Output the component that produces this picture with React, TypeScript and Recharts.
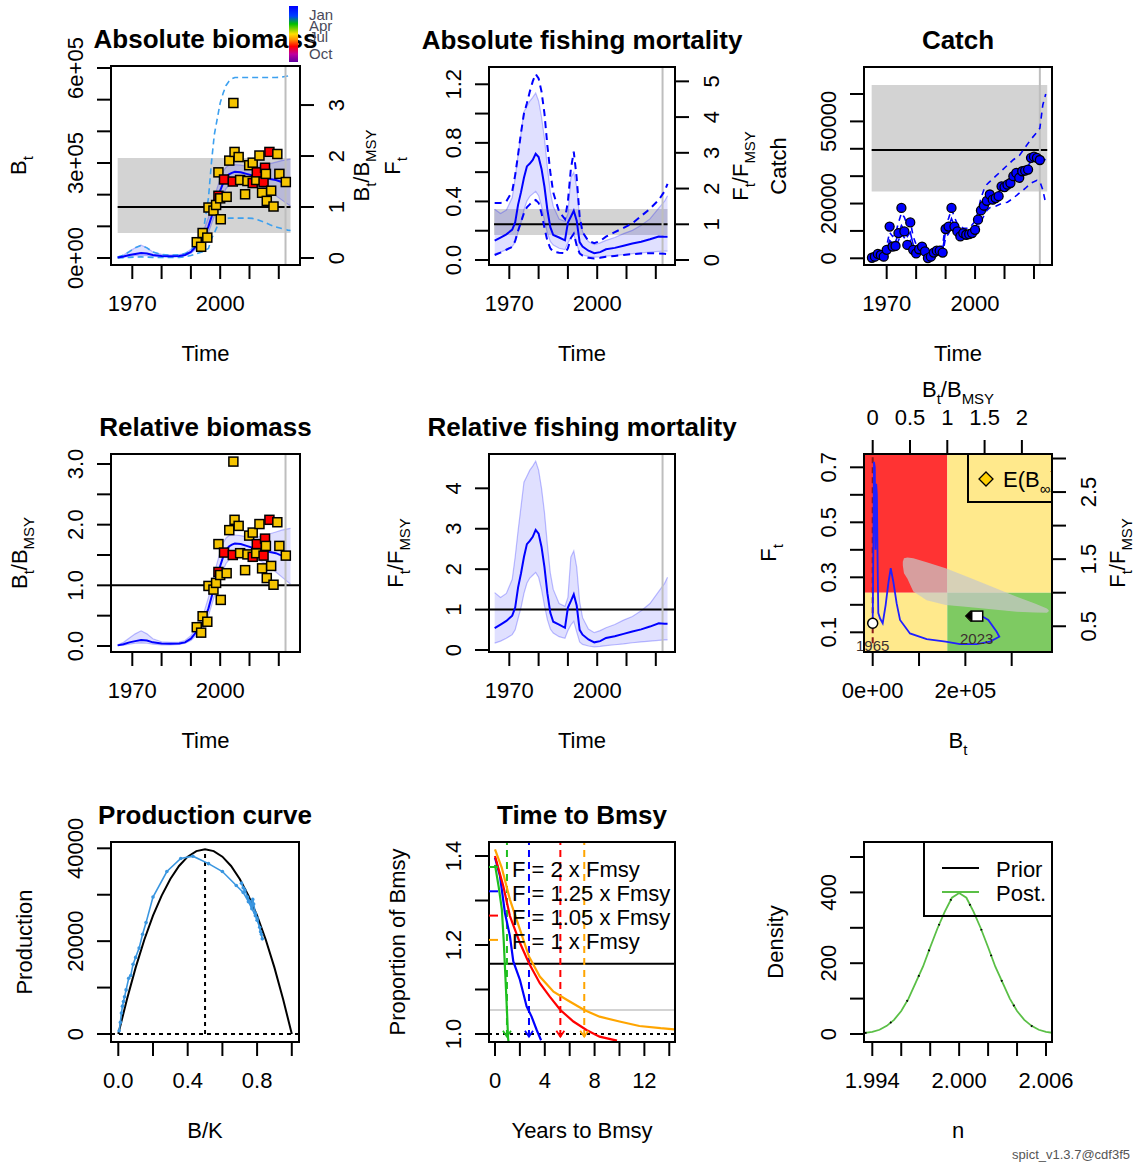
import React from "react";
import {
  ComposedChart,
  Line,
  Area,
  Scatter,
  XAxis,
  YAxis,
  ReferenceLine,
  ReferenceArea,
} from "recharts";

const FONT = "'Liberation Sans', Arial, Helvetica, sans-serif";
const PAD = 60;

// reference points
const BMSY = 161000;
const FMSY = 0.244;
const MSY = 39600;
const BMSY_CI = [79000, 316000];
const FMSY_CI = [0.17, 0.349];
const MSY_CI = [24400, 63300];
const LAST_OBS = 2022.3;

// biomass (relative to Bmsy) with CI, plus the wide dashed interval in tonnes
const bYear = [1965, 1967, 1969, 1971, 1973, 1975, 1977, 1980, 1983, 1986, 1988, 1990, 1992, 1994, 1996, 1997, 1998, 1999, 2000, 2001, 2002, 2003, 2004, 2005, 2007, 2009, 2011, 2013, 2015, 2017, 2019, 2021, 2023, 2024];
const bRel = [0.01, 0.03, 0.06, 0.08, 0.1, 0.09, 0.06, 0.04, 0.035, 0.04, 0.06, 0.12, 0.24, 0.36, 0.62, 0.8, 0.98, 1.14, 1.32, 1.47, 1.58, 1.64, 1.67, 1.69, 1.68, 1.65, 1.62, 1.6, 1.58, 1.55, 1.53, 1.49, 1.44, 1.42];
const bRelLo = [0.005, 0.015, 0.03, 0.045, 0.05, 0.045, 0.03, 0.02, 0.02, 0.025, 0.045, 0.09, 0.18, 0.28, 0.5, 0.66, 0.82, 0.96, 1.1, 1.25, 1.36, 1.42, 1.45, 1.47, 1.48, 1.47, 1.45, 1.42, 1.37, 1.3, 1.22, 1.14, 1.06, 1.02];
const bRelHi = [0.02, 0.06, 0.13, 0.2, 0.25, 0.2, 0.12, 0.07, 0.06, 0.065, 0.09, 0.17, 0.31, 0.48, 0.8, 1.0, 1.2, 1.38, 1.55, 1.7, 1.78, 1.82, 1.83, 1.83, 1.82, 1.8, 1.79, 1.8, 1.82, 1.85, 1.88, 1.91, 1.93, 1.94];
const bDashLo = [0, 1000, 2000, 3000, 3500, 3000, 2000, 1500, 1500, 2000, 4000, 8000, 14000, 20000, 30000, 60000, 79000, 100000, 113000, 121000, 124000, 126000, 126000, 126000, 126000, 126000, 125000, 120000, 113000, 105000, 98000, 93000, 88000, 87000];
const bDashHi = [3000, 9000, 20000, 32000, 40000, 32000, 19000, 11000, 9000, 10000, 14000, 25000, 45000, 70000, 190000, 300000, 390000, 440000, 490000, 520000, 545000, 558000, 566000, 570000, 570000, 570000, 570000, 570000, 570000, 570000, 570000, 571000, 575000, 580000];

// biomass index observations (relative scale) and their season
const idxYear = [1992.0, 1993.5, 1994.0, 1995.6, 1996.0, 1997.7, 1998.6, 1999.4, 2000.2, 2000.0, 1999.4, 2001.3, 2002.2, 2003.1, 2004.5, 2004.9, 2004.3, 2006.3, 2006.8, 2008.5, 2009.3, 2009.9, 2011.1, 2011.1, 2012.3, 2012.5, 2013.4, 2014.3, 2014.8, 2015.3, 2015.6, 2015.9, 2016.8, 2017.4, 2018.2, 2019.5, 2020.2, 2022.4];
const idxRel = [0.31, 0.22, 0.49, 0.4, 0.99, 0.93, 1.04, 1.22, 0.76, 1.17, 1.68, 1.54, 1.2, 1.91, 3.04, 2.08, 1.5, 1.98, 1.53, 1.25, 1.51, 1.82, 1.87, 1.47, 1.53, 1.68, 2.01, 1.28, 1.49, 1.77, 1.65, 1.12, 2.08, 1.32, 1.01, 2.04, 1.65, 1.49];
const idxSeason = ["Jul", "Jul", "Jul", "Jul", "Jul", "Jul", "Jul", "Oct", "Jul", "Jul", "Jul", "Oct", "Jul", "Jul", "Jul", "Jul", "Oct", "Jul", "Jul", "Jul", "Jul", "Jul", "Jul", "Oct", "Jul", "Oct", "Jul", "Jul", "Oct", "Oct", "Jul", "Jul", "Oct", "Jul", "Jul", "Jul", "Jul", "Jul"];

// fishing mortality (relative to Fmsy) with CI, plus dashed interval in F units
const fYear = [1965, 1967, 1969, 1971, 1972, 1973, 1974, 1975, 1976, 1977, 1978, 1979, 1980, 1981, 1982, 1983, 1984, 1985, 1987, 1989, 1990, 1991, 1992, 1993, 1994, 1995, 1997, 1999, 2001, 2003, 2006, 2009, 2012, 2015, 2018, 2021, 2023, 2024];
const fRel = [0.54, 0.63, 0.72, 0.85, 1.05, 1.55, 1.9, 2.3, 2.62, 2.7, 2.8, 2.97, 2.88, 2.55, 2.05, 1.4, 0.92, 0.7, 0.63, 0.55, 1.05, 1.21, 1.38, 1.1, 0.5, 0.38, 0.26, 0.19, 0.22, 0.3, 0.34, 0.4, 0.46, 0.51, 0.58, 0.66, 0.65, 0.65];
const fLo = [0.17, 0.22, 0.29, 0.38, 0.5, 0.78, 1.05, 1.4, 1.65, 1.78, 1.85, 1.92, 1.8, 1.5, 1.1, 0.75, 0.52, 0.42, 0.33, 0.29, 0.48, 0.62, 0.71, 0.45, 0.2, 0.14, 0.1, 0.08, 0.09, 0.11, 0.13, 0.15, 0.18, 0.2, 0.22, 0.24, 0.25, 0.25];
const fHi = [1.42, 1.3, 1.4, 1.75, 2.3, 2.95, 3.55, 4.15, 4.3, 4.45, 4.55, 4.67, 4.45, 4.0, 3.4, 2.6, 1.9, 1.5, 1.15, 1.08, 1.3, 2.3, 2.45, 2.05, 1.2, 0.8, 0.52, 0.43, 0.48, 0.55, 0.63, 0.74, 0.83, 0.97, 1.15, 1.45, 1.65, 1.8];
const fDashLo = [0.034, 0.05, 0.07, 0.09, 0.13, 0.2, 0.26, 0.32, 0.36, 0.38, 0.4, 0.41, 0.39, 0.32, 0.22, 0.13, 0.08, 0.057, 0.05, 0.046, 0.08, 0.15, 0.18, 0.1, 0.045, 0.03, 0.015, 0.011, 0.015, 0.022, 0.028, 0.035, 0.04, 0.045, 0.046, 0.045, 0.042, 0.04];
const fDashHi = [0.39, 0.39, 0.4, 0.47, 0.58, 0.72, 0.87, 1.0, 1.07, 1.15, 1.22, 1.27, 1.24, 1.15, 1.0, 0.78, 0.6, 0.46, 0.33, 0.28, 0.4, 0.62, 0.74, 0.56, 0.3, 0.19, 0.13, 0.115, 0.13, 0.16, 0.19, 0.22, 0.25, 0.3, 0.35, 0.41, 0.47, 0.52];

// catch: observed yearly, predicted with interval
const obsYear = Array.from({ length: 58 }, (_, i) => 1965 + i);
const obsCatch = [200, 600, 1600, 1200, 600, 3100, 11600, 4300, 4500, 9200, 18400, 9800, 4900, 13100, 3100, 1800, 3300, 4300, 2500, 100, 600, 2100, 2800, 2800, 2100, 10700, 11600, 18400, 11600, 9800, 8000, 9200, 8600, 8800, 9200, 10400, 14100, 17500, 19200, 21000, 23300, 21400, 22000, 22700, 26300, 26000, 26900, 27500, 30000, 31200, 29400, 31800, 32000, 32400, 36700, 37100, 36700, 35900];
const cYear = [1965, 1967, 1969, 1970, 1971, 1972, 1973, 1974, 1975, 1976, 1977, 1978, 1979, 1980, 1982, 1984, 1986, 1988, 1989, 1990, 1991, 1992, 1993, 1994, 1996, 1998, 2000, 2001, 2002, 2003, 2004, 2005, 2007, 2009, 2011, 2013, 2015, 2017, 2019, 2021, 2022, 2023, 2024];
const cEst = [400, 1200, 1500, 2800, 6500, 5500, 6000, 9000, 12000, 10500, 8000, 9500, 5000, 3000, 3500, 1200, 1800, 2800, 3000, 10000, 11500, 14500, 12000, 10000, 9000, 9000, 10500, 13500, 17000, 19000, 21000, 22500, 22500, 25500, 27000, 29500, 30000, 32000, 35500, 36800, 36000, 36200, 36000];
const cLo = [150, 600, 800, 1600, 4000, 3500, 4000, 6500, 9000, 7500, 5500, 6500, 3000, 1800, 2000, 500, 1000, 1800, 1800, 7500, 9000, 11500, 9500, 8000, 7300, 7300, 8500, 11000, 13500, 15500, 17500, 18500, 19000, 20000, 20500, 22000, 23800, 25500, 27500, 28500, 28000, 25000, 20000];
const cHi = [900, 2200, 2800, 4500, 9500, 8000, 9000, 13000, 16500, 15000, 12000, 13500, 8000, 5000, 5500, 2500, 3000, 4200, 4500, 13000, 14500, 18000, 15000, 12500, 11000, 11000, 13500, 17000, 22000, 25000, 27000, 28000, 30000, 32000, 34000, 36000, 37500, 40500, 43500, 46000, 47500, 56000, 60000];

// Kobe plot: confidence region of the final state, and the trajectory
const kbB = [65000, 67500, 75000, 87600, 116500, 157500, 200000, 239000, 311000, 350000, 376000, 380000];
const kbLo = [0.343, 0.315, 0.295, 0.248, 0.217, 0.199, 0.193, 0.187, 0.175, 0.172, 0.171, 0.177];
const kbHi = [0.357, 0.369, 0.372, 0.369, 0.355, 0.333, 0.305, 0.278, 0.229, 0.205, 0.187, 0.18];
const kB = [0, 1500, 2800, 4500, 6000, 7500, 9000, 11000, 12100, 16000, 21600, 28000, 33700, 38900, 44500, 51700, 59000, 80500, 116500, 157600, 188400, 224500, 253200, 273300, 267600, 249500, 235300, 224500];
const kF = [0.133, 0.42, 0.72, 0.7, 0.4, 0.64, 0.6, 0.3, 0.17, 0.15, 0.133, 0.2, 0.278, 0.333, 0.284, 0.205, 0.145, 0.096, 0.075, 0.066, 0.057, 0.057, 0.066, 0.084, 0.102, 0.145, 0.159, 0.159];
const kEndYears = ["1965", "2023"];
const eBinfB = 211500;
const eBinfF = 0.159;

// production curve
const pcBK = [0, 0.05, 0.1, 0.15, 0.2, 0.25, 0.3, 0.35, 0.4, 0.45, 0.5, 0.55, 0.6, 0.65, 0.7, 0.75, 0.8, 0.85, 0.9, 0.95, 1.0];
const pcProd = [0, 7500, 14300, 20300, 25500, 29800, 33400, 36200, 38200, 39400, 39800, 39400, 38200, 36200, 33400, 29800, 25500, 20300, 14300, 7500, 0];
const prodBK = [0.005, 0.012, 0.018, 0.024, 0.03, 0.036, 0.045, 0.06, 0.072, 0.085, 0.1, 0.12, 0.14, 0.16, 0.2, 0.28, 0.36, 0.43, 0.52, 0.6, 0.68, 0.72, 0.75, 0.77, 0.79, 0.8, 0.82, 0.83, 0.825, 0.815, 0.8, 0.79, 0.78, 0.775, 0.77, 0.76, 0.745, 0.73, 0.72, 0.71];
const prodP = [700, 2500, 4500, 6000, 7000, 8000, 9500, 12000, 12600, 15000, 16500, 18500, 21500, 24000, 29500, 35000, 37800, 38300, 36700, 35000, 32000, 30500, 28500, 27000, 25500, 25000, 22000, 20500, 21500, 23000, 24500, 26000, 28000, 29000, 27500, 28500, 29500, 31000, 31500, 32500];

// time to Bmsy under four F scenarios
const ttbLabels = ["F = 2 x Fmsy", "F = 1.25 x Fmsy", "F = 1.05 x Fmsy", "F = 1 x Fmsy"];
const ttbT = [
  [0, 0.3, 0.55, 0.7, 0.8, 0.9, 0.98, 1.05, 1.1],
  [0, 0.4, 0.8, 1.2, 1.47, 2.0, 2.54, 2.94, 3.35, 3.7],
  [0, 0.67, 1.2, 2.0, 2.73, 3.6, 4.4, 5.25, 6.3, 7.35, 8.4, 9.8],
  [0, 0.54, 1.2, 2.0, 2.73, 3.6, 4.7, 5.76, 7.17, 8.4, 10, 11.6, 13.3, 14.4],
];
const ttbP = [
  [1.38, 1.33, 1.28, 1.21, 1.15, 1.09, 1.04, 0.99, 0.98],
  [1.396, 1.355, 1.272, 1.22, 1.163, 1.122, 1.062, 1.039, 1.009, 0.986],
  [1.4, 1.332, 1.265, 1.205, 1.159, 1.114, 1.084, 1.054, 1.028, 1.009, 0.994, 0.985],
  [1.415, 1.374, 1.302, 1.235, 1.174, 1.129, 1.095, 1.077, 1.054, 1.039, 1.028, 1.018, 1.013, 1.0105],
];
const ttbReach = [0.96, 2.73, 5.25, 7.17];
const ttbNow = 1.158;
const ttbGrey = 1.054;

// prior / posterior of n
const nGrid = [1.9935, 1.994, 1.9945, 1.995, 1.9955, 1.996, 1.9965, 1.997, 1.9975, 1.998, 1.9985, 1.999, 1.9995, 2.0, 2.0005, 2.001, 2.0015, 2.002, 2.0025, 2.003, 2.0035, 2.004, 2.0045, 2.005, 2.0055, 2.006, 2.0065];
const nPost = [3, 6, 12, 23, 40, 65, 100, 145, 190, 245, 298, 345, 385, 398, 385, 345, 298, 245, 190, 145, 100, 65, 40, 23, 12, 6, 3];
const nPrior = [3, 6, 12, 23, 40, 65, 100, 145, 190, 245, 298, 345, 385, 398, 385, 345, 298, 245, 190, 145, 100, 65, 40, 23, 12, 6, 3];

// tables for the library
const bioRows = bYear.map((x, i) => ({
  x,
  rel: bRel[i],
  relLo: bRelLo[i],
  relHi: bRelHi[i],
  relBand: [bRelLo[i], bRelHi[i]],
  abs: bRel[i] * BMSY,
  absLo: bRelLo[i] * BMSY,
  absHi: bRelHi[i] * BMSY,
  absBand: [bRelLo[i] * BMSY, bRelHi[i] * BMSY],
  dLo: bDashLo[i],
  dHi: bDashHi[i],
}));
const idxRows = idxYear.map((x, i) => ({ x, rel: idxRel[i], abs: idxRel[i] * BMSY, season: idxSeason[i] }));
const fRows = fYear.map((x, i) => ({
  x,
  rel: fRel[i],
  relLo: fLo[i],
  relHi: fHi[i],
  relBand: [fLo[i], fHi[i]],
  abs: fRel[i] * FMSY,
  absLo: fLo[i] * FMSY,
  absHi: fHi[i] * FMSY,
  absBand: [fLo[i] * FMSY, fHi[i] * FMSY],
  dLo: fDashLo[i],
  dHi: fDashHi[i],
}));
const catchRows = cYear.map((x, i) => ({ x, est: cEst[i], lo: cLo[i], hi: cHi[i] }));
const obsRows = obsYear.map((x, i) => ({ x, y: obsCatch[i] }));
const kobeBand = kbB.map((x, i) => ({ x, band: [kbLo[i], kbHi[i]] }));
const kobeTraj = kB.map((x, i) => ({ x, y: kF[i] }));
const kobeEnds = [
  { x: kB[0], y: kF[0], kind: "start", lab: kEndYears[0] },
  { x: kB[kB.length - 1], y: kF[kF.length - 1], kind: "end", lab: kEndYears[1] },
];
const prodRows = pcBK.map((x, i) => ({ x, p: pcProd[i] }));
const prodTraj = prodBK.map((x, i) => ({ x, y: prodP[i] }));
const priorRows = nGrid.map((x, i) => ({ x, post: nPost[i], prior: nPrior[i] }));

// layout
type Box = { x: number; y: number; w: number; h: number };
const B1: Box = { x: 111, y: 66, w: 189, h: 199 };
const B2: Box = { x: 489, y: 67, w: 186, h: 198 };
const B3: Box = { x: 864, y: 67, w: 188, h: 198 };
const B4: Box = { x: 111, y: 454, w: 189, h: 198 };
const B5: Box = { x: 489, y: 454, w: 186, h: 198 };
const B6: Box = { x: 864, y: 454, w: 188, h: 198 };
const B7: Box = { x: 111, y: 842, w: 188, h: 200 };
const B8: Box = { x: 489, y: 842, w: 186, h: 200 };
const B9: Box = { x: 864, y: 842, w: 188, h: 200 };

const BLUE = "#0000ff";
const DASHBLUE = "#3ca0f0";
const GREY_BAND = "#d3d3d3";
const GREY_LINE = "#bebebe";
const PRODBLUE = "#3a96e0";
const TTB_COLS = ["#1fbf1f", "#0000ff", "#ff0000", "#ffa500"];
const POST_GREEN = "#5abf46";

const holder = (b: Box): React.CSSProperties => ({ position: "absolute", left: b.x - PAD, top: b.y - PAD });
const chartProps = (b: Box, top = false, right = false) => ({
  width: b.w + 2 * PAD,
  height: b.h + 2 * PAD,
  margin: { top: top ? 0 : PAD, right: right ? 0 : PAD, bottom: 0, left: 0 },
});

const ax = {
  type: "number" as const,
  axisLine: false,
  tickLine: { stroke: "#000", strokeWidth: 2 },
  tickSize: 14,
  interval: 0 as const,
  allowDataOverflow: true,
};

type Labels = Record<string, string>;
const bottomTick = (b: Box, labels: Labels) => (p: any) => {
  const s = labels[String(p.payload.value)];
  if (!s) return <g />;
  return (
    <text x={p.x} y={PAD + b.h + 46} textAnchor="middle" fontSize={22} fontFamily={FONT} fill="#000">
      {s}
    </text>
  );
};
const topTick = (labels: Labels) => (p: any) => {
  const s = labels[String(p.payload.value)];
  if (!s) return <g />;
  return (
    <text x={p.x} y={PAD - 29} textAnchor="middle" fontSize={22} fontFamily={FONT} fill="#000">
      {s}
    </text>
  );
};
const leftTick = (labels: Labels) => (p: any) => {
  const s = labels[String(p.payload.value)];
  if (!s) return <g />;
  const xb = PAD - 28;
  return (
    <text x={xb} y={p.y} transform={`rotate(-90 ${xb} ${p.y})`} textAnchor="middle" fontSize={22} fontFamily={FONT} fill="#000">
      {s}
    </text>
  );
};
const rightTick = (b: Box, labels: Labels) => (p: any) => {
  const s = labels[String(p.payload.value)];
  if (!s) return <g />;
  const xb = PAD + b.w + 44;
  return (
    <text x={xb} y={p.y} transform={`rotate(-90 ${xb} ${p.y})`} textAnchor="middle" fontSize={22} fontFamily={FONT} fill="#000">
      {s}
    </text>
  );
};

const yearTicks = [1970, 1980, 1990, 2000, 2010, 2020];
const yearLabels: Labels = { "1970": "1970", "2000": "2000" };

const squareShape = (p: any) => (
  <rect
    x={p.cx - 4.5}
    y={p.cy - 4.5}
    width={9}
    height={9}
    fill={p.payload.season === "Oct" ? "#ff0000" : "#f5c400"}
    stroke="#000"
    strokeWidth={1.5}
  />
);
const catchDot = (p: any) => <circle cx={p.cx} cy={p.cy} r={4.5} fill={BLUE} stroke="#000" strokeWidth={1.3} />;
const noDot = () => <g />;

function AbsBiomass() {
  const b = B1;
  const dom = [-22100, 606300];
  return (
    <div style={holder(b)}>
      <ComposedChart {...chartProps(b, false, true)} data={bioRows}>
        <XAxis dataKey="x" {...ax} domain={[1962.73, 2027.24]} ticks={yearTicks} height={PAD} tick={bottomTick(b, yearLabels)} />
        <YAxis {...ax} domain={dom} ticks={[0, 100000, 200000, 300000, 400000, 500000, 600000]} width={PAD}
          tick={leftTick({ "0": "0e+00", "300000": "3e+05", "600000": "6e+05" })} />
        <YAxis yAxisId="r" orientation="right" {...ax} domain={[dom[0] / BMSY, dom[1] / BMSY]} ticks={[0, 1, 2, 3]} width={PAD}
          tick={rightTick(b, { "0": "0", "1": "1", "2": "2", "3": "3" })} />
        <ReferenceArea x1={1965} x2={2024} y1={BMSY_CI[0]} y2={BMSY_CI[1]} fill={GREY_BAND} fillOpacity={1} stroke="none" />
        <Area dataKey="absBand" fill={BLUE} fillOpacity={0.12} stroke="none" isAnimationActive={false} />
        <Line dataKey="absLo" stroke={BLUE} strokeOpacity={0.25} strokeWidth={1.2} dot={false} activeDot={false} isAnimationActive={false} />
        <Line dataKey="absHi" stroke={BLUE} strokeOpacity={0.25} strokeWidth={1.2} dot={false} activeDot={false} isAnimationActive={false} />
        <Line dataKey="dLo" stroke={DASHBLUE} strokeDasharray="6 4" strokeWidth={1.6} dot={false} activeDot={false} isAnimationActive={false} />
        <Line dataKey="dHi" stroke={DASHBLUE} strokeDasharray="6 4" strokeWidth={1.6} dot={false} activeDot={false} isAnimationActive={false} />
        <ReferenceLine yAxisId="r" segment={[{ x: 1965, y: 1 }, { x: 2024, y: 1 }]} stroke="#000" strokeWidth={2} />
        <ReferenceLine x={LAST_OBS} stroke={GREY_LINE} strokeWidth={2} />
        <Line dataKey="abs" stroke={BLUE} strokeWidth={2} dot={false} activeDot={false} isAnimationActive={false} />
        <Scatter data={idxRows} dataKey="abs" shape={squareShape} isAnimationActive={false} />
      </ComposedChart>
    </div>
  );
}

function AbsF() {
  const b = B2;
  const dom = [-0.034, 1.318];
  return (
    <div style={holder(b)}>
      <ComposedChart {...chartProps(b, false, true)} data={fRows}>
        <XAxis dataKey="x" {...ax} domain={[1963.07, 2026.55]} ticks={yearTicks} height={PAD} tick={bottomTick(b, yearLabels)} />
        <YAxis {...ax} domain={dom} ticks={[0, 0.2, 0.4, 0.6, 0.8, 1.0, 1.2]} width={PAD}
          tick={leftTick({ "0": "0.0", "0.4": "0.4", "0.8": "0.8", "1.2": "1.2" })} />
        <YAxis yAxisId="r" orientation="right" {...ax} domain={[dom[0] / FMSY, dom[1] / FMSY]} ticks={[0, 1, 2, 3, 4, 5]} width={PAD}
          tick={rightTick(b, { "0": "0", "1": "1", "2": "2", "3": "3", "4": "4", "5": "5" })} />
        <ReferenceArea x1={1964.8} x2={2024} y1={FMSY_CI[0]} y2={FMSY_CI[1]} fill={GREY_BAND} fillOpacity={1} stroke="none" />
        <Area dataKey="absBand" fill={BLUE} fillOpacity={0.12} stroke="none" isAnimationActive={false} />
        <Line dataKey="absLo" stroke={BLUE} strokeOpacity={0.25} strokeWidth={1.2} dot={false} activeDot={false} isAnimationActive={false} />
        <Line dataKey="absHi" stroke={BLUE} strokeOpacity={0.25} strokeWidth={1.2} dot={false} activeDot={false} isAnimationActive={false} />
        <ReferenceLine yAxisId="r" segment={[{ x: 1964.8, y: 1 }, { x: 2024, y: 1 }]} stroke="#000" strokeWidth={2} />
        <ReferenceLine x={LAST_OBS} stroke={GREY_LINE} strokeWidth={2} />
        <Line dataKey="dLo" stroke={BLUE} strokeDasharray="7 5" strokeWidth={2} dot={false} activeDot={false} isAnimationActive={false} />
        <Line dataKey="dHi" stroke={BLUE} strokeDasharray="7 5" strokeWidth={2} dot={false} activeDot={false} isAnimationActive={false} />
        <Line dataKey="abs" stroke={BLUE} strokeWidth={2} dot={false} activeDot={false} isAnimationActive={false} />
      </ComposedChart>
    </div>
  );
}

function CatchPanel() {
  const b = B3;
  return (
    <div style={holder(b)}>
      <ComposedChart {...chartProps(b)} data={catchRows}>
        <XAxis dataKey="x" {...ax} domain={[1962.3, 2026.12]} ticks={yearTicks} height={PAD} tick={bottomTick(b, yearLabels)} />
        <YAxis {...ax} domain={[-2447, 69870]} ticks={[0, 10000, 20000, 30000, 40000, 50000, 60000]} width={PAD}
          tick={leftTick({ "0": "0", "20000": "20000", "50000": "50000" })} />
        <ReferenceArea x1={1964.9} x2={2024.5} y1={MSY_CI[0]} y2={MSY_CI[1]} fill={GREY_BAND} fillOpacity={1} stroke="none" />
        <ReferenceLine segment={[{ x: 1964.9, y: MSY }, { x: 2024.5, y: MSY }]} stroke="#000" strokeWidth={2} />
        <ReferenceLine x={2022.0} stroke={GREY_LINE} strokeWidth={2} />
        <Line dataKey="lo" stroke={BLUE} strokeDasharray="6 5" strokeWidth={1.6} dot={false} activeDot={false} isAnimationActive={false} />
        <Line dataKey="hi" stroke={BLUE} strokeDasharray="6 5" strokeWidth={1.6} dot={false} activeDot={false} isAnimationActive={false} />
        <Line dataKey="est" stroke={BLUE} strokeWidth={1.6} dot={false} activeDot={false} isAnimationActive={false} />
        <Scatter data={obsRows} dataKey="y" shape={catchDot} isAnimationActive={false} />
      </ComposedChart>
    </div>
  );
}

function RelBiomass() {
  const b = B4;
  return (
    <div style={holder(b)}>
      <ComposedChart {...chartProps(b)} data={bioRows}>
        <XAxis dataKey="x" {...ax} domain={[1962.73, 2027.24]} ticks={yearTicks} height={PAD} tick={bottomTick(b, yearLabels)} />
        <YAxis {...ax} domain={[-0.099, 3.165]} ticks={[0, 0.5, 1, 1.5, 2, 2.5, 3]} width={PAD}
          tick={leftTick({ "0": "0.0", "1": "1.0", "2": "2.0", "3": "3.0" })} />
        <Area dataKey="relBand" fill={BLUE} fillOpacity={0.12} stroke="none" isAnimationActive={false} />
        <Line dataKey="relLo" stroke={BLUE} strokeOpacity={0.25} strokeWidth={1.2} dot={false} activeDot={false} isAnimationActive={false} />
        <Line dataKey="relHi" stroke={BLUE} strokeOpacity={0.25} strokeWidth={1.2} dot={false} activeDot={false} isAnimationActive={false} />
        <ReferenceLine y={1} stroke="#000" strokeWidth={2} />
        <ReferenceLine x={LAST_OBS} stroke={GREY_LINE} strokeWidth={2} />
        <Line dataKey="rel" stroke={BLUE} strokeWidth={2} dot={false} activeDot={false} isAnimationActive={false} />
        <Scatter data={idxRows} dataKey="rel" shape={squareShape} isAnimationActive={false} />
      </ComposedChart>
    </div>
  );
}

function RelF() {
  const b = B5;
  return (
    <div style={holder(b)}>
      <ComposedChart {...chartProps(b)} data={fRows}>
        <XAxis dataKey="x" {...ax} domain={[1963.07, 2026.55]} ticks={yearTicks} height={PAD} tick={bottomTick(b, yearLabels)} />
        <YAxis {...ax} domain={[-0.049, 4.849]} ticks={[0, 1, 2, 3, 4]} width={PAD}
          tick={leftTick({ "0": "0", "1": "1", "2": "2", "3": "3", "4": "4" })} />
        <Area dataKey="relBand" fill={BLUE} fillOpacity={0.12} stroke="none" isAnimationActive={false} />
        <Line dataKey="relLo" stroke={BLUE} strokeOpacity={0.25} strokeWidth={1.2} dot={false} activeDot={false} isAnimationActive={false} />
        <Line dataKey="relHi" stroke={BLUE} strokeOpacity={0.25} strokeWidth={1.2} dot={false} activeDot={false} isAnimationActive={false} />
        <ReferenceLine y={1} stroke="#000" strokeWidth={2} />
        <ReferenceLine x={LAST_OBS} stroke={GREY_LINE} strokeWidth={2} />
        <Line dataKey="rel" stroke={BLUE} strokeWidth={2} dot={false} activeDot={false} isAnimationActive={false} />
      </ComposedChart>
    </div>
  );
}

const kobeMark = (p: any) => {
  const start = p.payload.kind === "start";
  return (
    <g>
      {start ? (
        <circle cx={p.cx} cy={p.cy} r={5} fill="#fff" stroke="#000" strokeWidth={1.5} />
      ) : (
        <g>
          <path d={`M ${p.cx - 11} ${p.cy} L ${p.cx - 5} ${p.cy - 5} L ${p.cx - 5} ${p.cy + 5} Z`} fill="#000" />
          <rect x={p.cx - 5} y={p.cy - 5} width={11} height={10} fill="#fff" stroke="#000" strokeWidth={1.5} />
        </g>
      )}
      <text x={p.cx} y={p.cy + 27.5} textAnchor="middle" fontSize={15} fontFamily={FONT} fill="#3b2f2f">
        {p.payload.lab}
      </text>
    </g>
  );
};
const diamond = (p: any) => (
  <path d={`M ${p.cx} ${p.cy - 5} L ${p.cx + 5} ${p.cy} L ${p.cx} ${p.cy + 5} L ${p.cx - 5} ${p.cy} Z`} fill="#ffd000" stroke="#000" strokeWidth={1.2} />
);

function Kobe() {
  const b = B6;
  const xd = [-18780, 387000];
  const yd = [0.0284, 0.7484];
  const RED = "#ff3333";
  const YEL = "#ffe98c";
  const GRN = "#7eca62";
  return (
    <div style={holder(b)}>
      <ComposedChart {...chartProps(b, true, true)} data={kobeBand}>
        <XAxis dataKey="x" {...ax} allowDataOverflow={false} domain={xd} ticks={[0, 100000, 200000, 300000]} height={PAD}
          tick={bottomTick(b, { "0": "0e+00", "200000": "2e+05" })} />
        <XAxis xAxisId="top" orientation="top" dataKey="x" {...ax} domain={[xd[0] / BMSY, xd[1] / BMSY]} ticks={[0, 0.5, 1, 1.5, 2]} height={PAD}
          tick={topTick({ "0": "0", "0.5": "0.5", "1": "1", "1.5": "1.5", "2": "2" })} />
        <YAxis {...ax} allowDataOverflow={false} domain={yd} ticks={[0.1, 0.2, 0.3, 0.4, 0.5, 0.6, 0.7]} width={PAD}
          tick={leftTick({ "0.1": "0.1", "0.3": "0.3", "0.5": "0.5", "0.7": "0.7" })} />
        <YAxis yAxisId="r" orientation="right" {...ax} domain={[yd[0] / FMSY, yd[1] / FMSY]} ticks={[0.5, 1, 1.5, 2, 2.5, 3]} width={PAD}
          tick={rightTick(b, { "0.5": "0.5", "1.5": "1.5", "2.5": "2.5" })} />
        <ReferenceArea xAxisId="top" yAxisId="r" x1={-1} x2={1} y1={1} y2={10} fill={RED} fillOpacity={1} stroke="none" ifOverflow="hidden" />
        <ReferenceArea xAxisId="top" yAxisId="r" x1={1} x2={10} y1={1} y2={10} fill={YEL} fillOpacity={1} stroke="none" ifOverflow="hidden" />
        <ReferenceArea xAxisId="top" yAxisId="r" x1={-1} x2={1} y1={-1} y2={1} fill={YEL} fillOpacity={1} stroke="none" ifOverflow="hidden" />
        <ReferenceArea xAxisId="top" yAxisId="r" x1={1} x2={10} y1={-1} y2={1} fill={GRN} fillOpacity={1} stroke="none" ifOverflow="hidden" />
        <Area dataKey="band" fill="#c8c8c8" fillOpacity={0.72} stroke="none" isAnimationActive={false} />
        <ReferenceLine segment={[{ x: 0, y: 0.06 }, { x: 0, y: 0.745 }]} stroke="#8b1a1a" strokeWidth={2} strokeDasharray="6 4" />
        <Scatter data={kobeTraj} dataKey="y" shape={noDot} line={{ stroke: "#2020ff", strokeWidth: 1.8 }} lineType="joint" isAnimationActive={false} />
        <Scatter data={[{ x: eBinfB, y: eBinfF }]} dataKey="y" shape={diamond} isAnimationActive={false} />
        <Scatter data={kobeEnds} dataKey="y" shape={kobeMark} isAnimationActive={false} />
      </ComposedChart>
    </div>
  );
}

function Production() {
  const b = B7;
  return (
    <div style={holder(b)}>
      <ComposedChart {...chartProps(b)} data={prodRows}>
        <XAxis dataKey="x" {...ax} domain={[-0.042, 1.0415]} ticks={[0, 0.2, 0.4, 0.6, 0.8, 1.0]} height={PAD}
          tick={bottomTick(b, { "0": "0.0", "0.4": "0.4", "0.8": "0.8" })} />
        <YAxis {...ax} domain={[-1723, 41360]} ticks={[0, 10000, 20000, 30000, 40000]} width={PAD}
          tick={leftTick({ "0": "0", "20000": "20000", "40000": "40000" })} />
        <ReferenceLine y={0} stroke="#000" strokeWidth={2} strokeDasharray="4 4" />
        <ReferenceLine segment={[{ x: 0.5, y: 0 }, { x: 0.5, y: 39800 }]} stroke="#000" strokeWidth={2} strokeDasharray="4 4" />
        <Line dataKey="p" stroke="#000" strokeWidth={2} dot={false} activeDot={false} isAnimationActive={false} />
        <Scatter data={prodTraj} dataKey="y" shape={(p: any) => <circle cx={p.cx} cy={p.cy} r={1.8} fill={PRODBLUE} />}
          line={{ stroke: PRODBLUE, strokeWidth: 1.6 }} lineType="joint" isAnimationActive={false} />
      </ComposedChart>
    </div>
  );
}

const arrowShape = (col: string) => (p: any) => (
  <path d={`M ${p.cx - 4} ${p.cy - 6} L ${p.cx} ${p.cy} L ${p.cx + 4} ${p.cy - 6}`} fill="none" stroke={col} strokeWidth={1.8} />
);

function TimeToBmsy() {
  const b = B8;
  return (
    <div style={holder(b)}>
      <ComposedChart {...chartProps(b)}>
        <XAxis dataKey="x" {...ax} domain={[-0.482, 14.46]} ticks={[0, 2, 4, 6, 8, 10, 12, 14]} height={PAD}
          tick={bottomTick(b, { "0": "0", "4": "4", "8": "8", "12": "12" })} />
        <YAxis {...ax} domain={[0.982, 1.4315]} ticks={[1.0, 1.1, 1.2, 1.3, 1.4]} width={PAD}
          tick={leftTick({ "1": "1.0", "1.2": "1.2", "1.4": "1.4" })} />
        <ReferenceLine y={ttbGrey} stroke={GREY_BAND} strokeWidth={2} />
        <ReferenceLine y={ttbNow} stroke="#000" strokeWidth={2} />
        <ReferenceLine y={1} stroke="#000" strokeWidth={2} strokeDasharray="3 4" />
        {ttbReach.map((t, i) => (
          <ReferenceLine key={`v${i}`} segment={[{ x: t, y: 0.993 }, { x: t, y: 1.431 }]} stroke={TTB_COLS[i]} strokeWidth={2} strokeDasharray="7 5" />
        ))}
        {ttbT.map((ts, i) => (
          <Scatter key={`c${i}`} data={ts.map((x, j) => ({ x, y: ttbP[i][j] }))} dataKey="y" shape={noDot}
            line={{ stroke: TTB_COLS[i], strokeWidth: 2.2 }} lineType="joint" isAnimationActive={false} />
        ))}
        {ttbReach.map((t, i) => (
          <Scatter key={`a${i}`} data={[{ x: t, y: 0.994 }]} dataKey="y" shape={arrowShape(TTB_COLS[i])} isAnimationActive={false} />
        ))}
      </ComposedChart>
    </div>
  );
}

function PriorN() {
  const b = B9;
  return (
    <div style={holder(b)}>
      <ComposedChart {...chartProps(b)} data={priorRows}>
        <XAxis dataKey="x" {...ax} domain={[1.993427, 2.006414]} ticks={[1.994, 1.996, 1.998, 2.0, 2.002, 2.004, 2.006]} height={PAD}
          tick={bottomTick(b, { "1.994": "1.994", "2": "2.000", "2.006": "2.006" })} />
        <YAxis {...ax} domain={[-22.6, 542.4]} ticks={[0, 100, 200, 300, 400, 500]} width={PAD}
          tick={leftTick({ "0": "0", "200": "200", "400": "400" })} />
        <Line dataKey="post" stroke={POST_GREEN} strokeWidth={1.8} dot={false} activeDot={false} isAnimationActive={false} />
        <Line dataKey="prior" stroke="#000" strokeWidth={2} strokeDasharray="1.5 26" dot={false} activeDot={false} isAnimationActive={false} />
      </ComposedChart>
    </div>
  );
}

// ---------- text overlay ----------
type Part = [string, boolean];
const BT: Part[] = [["B", false], ["t", true]];
const FT: Part[] = [["F", false], ["t", true]];
const BB: Part[] = [["B", false], ["t", true], ["/", false], ["B", false], ["MSY", true]];
const FF: Part[] = [["F", false], ["t", true], ["/", false], ["F", false], ["MSY", true]];
const plain = (s: string): Part[] => [[s, false]];

function rich(parts: Part[], size: number) {
  let sub = false;
  return parts.map(([t, s], i) => {
    const dy = s === sub ? 0 : s ? size * 0.3 : -size * 0.3;
    sub = s;
    return (
      <tspan key={i} dy={dy} fontSize={s ? size * 0.68 : size}>
        {t}
      </tspan>
    );
  });
}
const HText = ({ x, y, parts, size = 22, bold = false, anchor = "middle" }: any) => (
  <text x={x} y={y} textAnchor={anchor} fontSize={size} fontWeight={bold ? "bold" : "normal"} fontFamily={FONT} fill="#000">
    {rich(parts, size)}
  </text>
);
const VText = ({ x, y, parts, size = 22 }: any) => (
  <text transform={`translate(${x} ${y}) rotate(-90)`} textAnchor="middle" fontSize={size} fontFamily={FONT} fill="#000">
    {rich(parts, size)}
  </text>
);

function Overlay() {
  const boxes = [B1, B2, B3, B4, B5, B6, B7, B8, B9];
  const cx = (b: Box) => b.x + b.w / 2;
  const cy = (b: Box) => b.y + b.h / 2;
  const titles: Array<[Box, string]> = [
    [B1, "Absolute biomass"],
    [B2, "Absolute fishing mortality"],
    [B3, "Catch"],
    [B4, "Relative biomass"],
    [B5, "Relative fishing mortality"],
    [B7, "Production curve"],
    [B8, "Time to Bmsy"],
  ];
  const xTitles: Array<[Box, Part[]]> = [
    [B1, plain("Time")], [B2, plain("Time")], [B3, plain("Time")],
    [B4, plain("Time")], [B5, plain("Time")], [B6, BT],
    [B7, plain("B/K")], [B8, plain("Years to Bmsy")], [B9, plain("n")],
  ];
  const yTitles: Array<[Box, Part[], number]> = [
    [B1, BT, 85], [B2, FT, 89], [B3, plain("Catch"), 78],
    [B4, BB, 84], [B5, FF, 86], [B6, FT, 88],
    [B7, plain("Production"), 79], [B8, plain("Proportion of Bmsy"), 84], [B9, plain("Density"), 81],
  ];
  return (
    <svg width={1138} height={1167} style={{ position: "absolute", left: 0, top: 0, pointerEvents: "none" }}>
      <defs>
        <linearGradient id="season" x1="0" y1="0" x2="0" y2="1">
          <stop offset="0" stopColor="#0000ff" />
          <stop offset="0.18" stopColor="#0040ff" />
          <stop offset="0.32" stopColor="#00c000" />
          <stop offset="0.5" stopColor="#ffe000" />
          <stop offset="0.6" stopColor="#ff9000" />
          <stop offset="0.72" stopColor="#ff0000" />
          <stop offset="0.86" stopColor="#c000a0" />
          <stop offset="1" stopColor="#6000a0" />
        </linearGradient>
        <clipPath id="kobeclip">
          <rect x={B6.x} y={B6.y} width={B6.w} height={B6.h} />
        </clipPath>
      </defs>

      {titles.map(([b, t], i) => (
        <HText key={`t${i}`} x={cx(b)} y={b.y - 18} parts={plain(t)} size={26} bold />
      ))}
      {xTitles.map(([b, p], i) => (
        <HText key={`x${i}`} x={cx(b)} y={b.y + b.h + 96} parts={p} />
      ))}
      {yTitles.map(([b, p, off], i) => (
        <VText key={`y${i}`} x={b.x - off} y={cy(b)} parts={p} />
      ))}
      <VText x={B1.x + B1.w + 69} y={cy(B1)} parts={BB} />
      <VText x={B2.x + B2.w + 73} y={cy(B2)} parts={FF} />
      <VText x={B6.x + B6.w + 73} y={cy(B6)} parts={FF} />
      <HText x={cx(B6)} y={B6.y - 57} parts={BB} />

      {boxes.map((b, i) => (
        <rect key={`b${i}`} x={b.x} y={b.y} width={b.w} height={b.h} fill="none" stroke="#000" strokeWidth={2} />
      ))}

      {/* season colour key */}
      <rect x={289} y={6} width={9} height={56} fill="url(#season)" />
      {[["Jan", 20], ["Apr", 31], ["Jul", 42], ["Oct", 59]].map(([s, y]) => (
        <text key={s as string} x={309} y={y as number} fontSize={15} fontFamily={FONT} fill="#4a4a5a">
          {s}
        </text>
      ))}

      {/* Kobe legend */}
      <g clipPath="url(#kobeclip)">
        <rect x={968} y={B6.y} width={90} height={48} fill="none" stroke="#000" strokeWidth={2} />
        <path d="M 986 472 L 993 479 L 986 486 L 979 479 Z" fill="#ffd000" stroke="#000" strokeWidth={1.3} />
        <HText x={1003} y={487} anchor="start" parts={[["E(B", false], ["\u221e", true], [")", false]]} />
      </g>

      {/* time to Bmsy legend */}
      {ttbLabels.map((s, i) => (
        <g key={`l${i}`}>
          <line x1={B8.x} x2={B8.x + 9} y1={867 + i * 24.3} y2={867 + i * 24.3} stroke={TTB_COLS[i]} strokeWidth={2} />
          <text x={512} y={876.5 + i * 24.2} fontSize={22} fontFamily={FONT} fill="#000">
            {s}
          </text>
        </g>
      ))}

      {/* prior legend */}
      <rect x={924} y={B9.y} width={128} height={74} fill="none" stroke="#000" strokeWidth={2} />
      <line x1={942} x2={979} y1={868} y2={868} stroke="#000" strokeWidth={2} />
      <line x1={942} x2={979} y1={892} y2={892} stroke={POST_GREEN} strokeWidth={2} />
      <text x={996} y={876.5} fontSize={22} fontFamily={FONT} fill="#000">Prior</text>
      <text x={996} y={900.5} fontSize={22} fontFamily={FONT} fill="#000">Post.</text>

      <text x={1130} y={1159} textAnchor="end" fontSize={13} fontFamily={FONT} fill="#555">
        spict_v1.3.7@cdf3f5
      </text>
    </svg>
  );
}

export default function App() {
  return (
    <div style={{ position: "absolute", left: 0, top: 0, width: 1138, height: 1167, background: "#fff", overflow: "hidden" }}>
      <AbsBiomass />
      <AbsF />
      <CatchPanel />
      <RelBiomass />
      <RelF />
      <Kobe />
      <Production />
      <TimeToBmsy />
      <PriorN />
      <Overlay />
    </div>
  );
}
